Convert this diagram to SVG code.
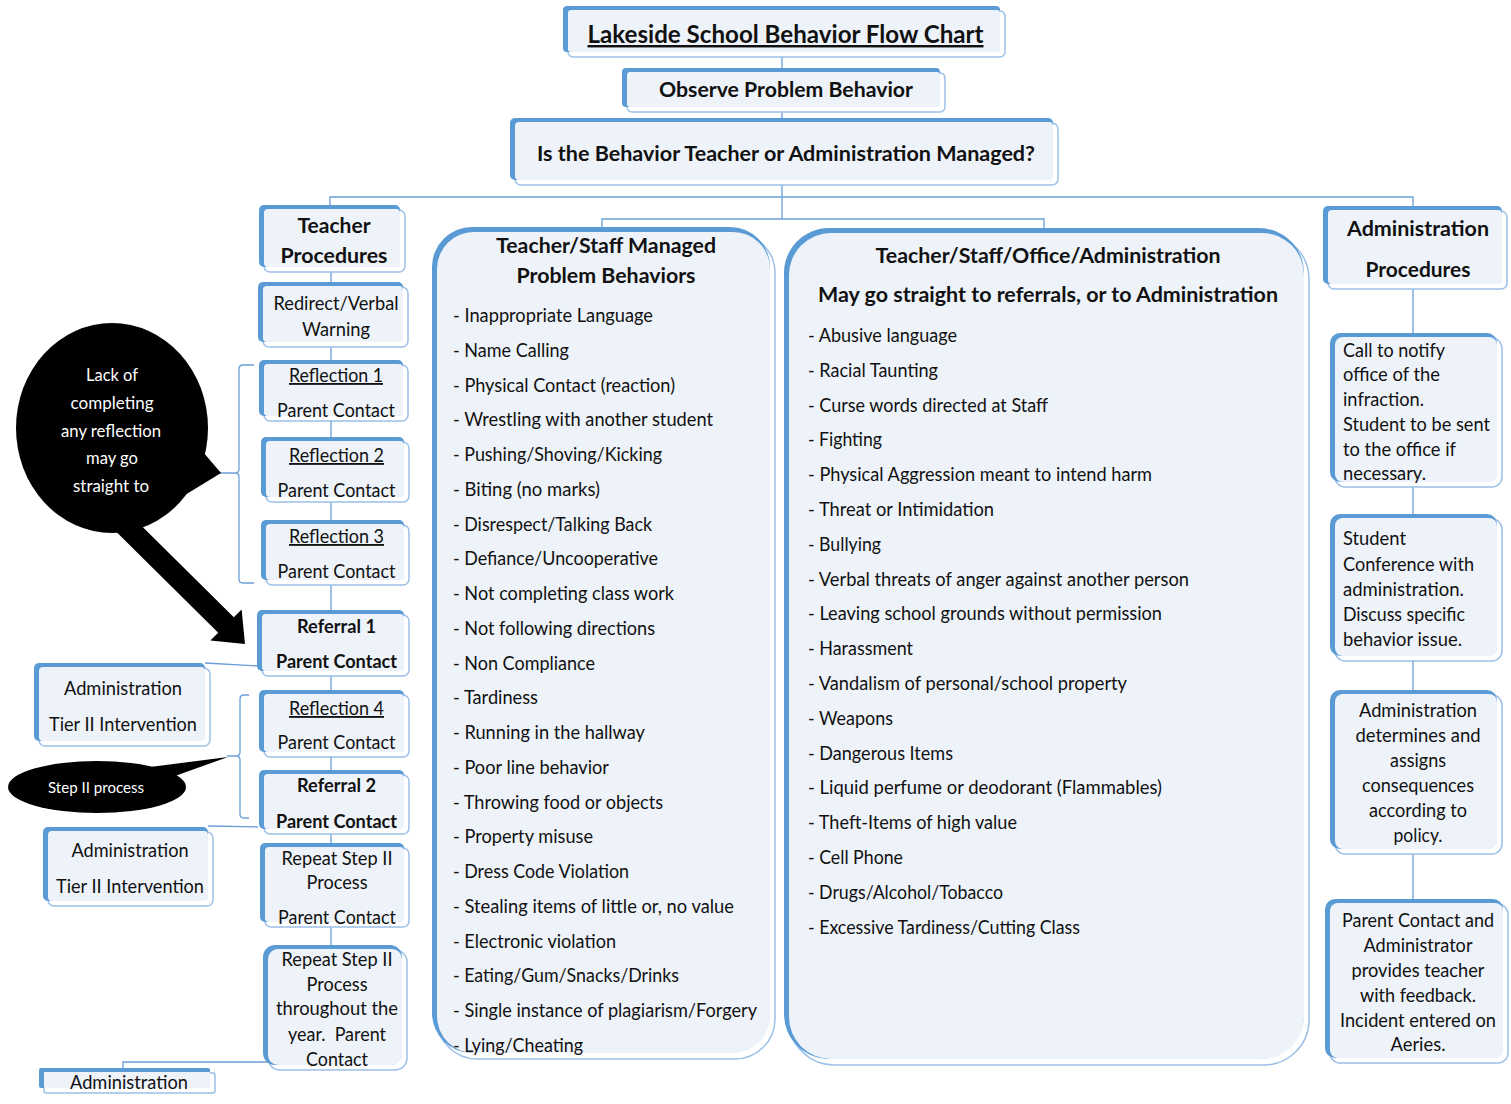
<svg xmlns="http://www.w3.org/2000/svg" width="1511" height="1104" viewBox="0 0 1511 1104">
<style>
.bl{fill:#5b9bd5}
.fr{fill:#ffffff;stroke:#9cc0e8;stroke-width:1.5}
.fi{fill:#eef3fa}
text{font-family:Lato,"Liberation Sans",sans-serif;fill:#111;}
.r{font-size:18.5px}
.bo{font-size:19px;font-weight:bold}
.h{font-size:21px;font-weight:bold}
.c{text-anchor:middle}
.u{text-decoration:underline}
.w{fill:#fff}
.conn path{stroke:#6a9fd6;stroke-width:1.3;fill:none}
.blk{fill:#000}
</style>
<rect width="1511" height="1104" fill="#fff"/>

<g class="conn" id="connectors">
<path d="M782,57 V68"/>
<path d="M782,112 V118"/>
<path d="M782,185 V219"/>
<path d="M330,206 V197 H1413 V206"/>
<path d="M602,228 V219 H1044 V228"/>
<path d="M331,272 V282 M331,347 V360 M331,421 V437 M331,502 V520 M331,585 V610 M331,676 V690 M331,757 V770 M331,834 V843 M331,927 V945"/>
<path d="M1413,289 V333 M1413,487 V514 M1413,661 V690 M1413,854 V899"/>
<path d="M254,365 H243 Q239,365 239,369 V469 Q239,473 235,473 Q239,473 239,477 V579 Q239,583 243,583 H254 M235,473 H220"/>
<path d="M249,695 H244 Q240,695 240,699 V752 Q240,756 236,756 Q240,756 240,760 V814 Q240,818 244,818 H249 M236,756 H227"/>
<path d="M258,666 L205,663"/>
<path d="M258,827 L208,826"/>
<path d="M268,1062 H123 V1068"/>
</g>

<g id="n-title">
<rect class="fr" x="568" y="11" width="437" height="46" rx="5"/>
<rect class="bl" x="563" y="6" width="437" height="46" rx="4"/>
<rect class="fi" x="568" y="10" width="432" height="42" rx="3"/>
<text class="c u" x="785.5" y="43" font-size="24.5" font-weight="bold" textLength="396" lengthAdjust="spacingAndGlyphs">Lakeside School Behavior Flow Chart</text>
</g>

<g id="n-observe">
<rect class="fr" x="627" y="73" width="318" height="39" rx="5"/>
<rect class="bl" x="622" y="68" width="318" height="39" rx="4"/>
<rect class="fi" x="627" y="72" width="313" height="35" rx="3"/>
<text class="h c" x="786" y="97" textLength="254" lengthAdjust="spacingAndGlyphs">Observe Problem Behavior</text>
</g>

<g id="n-question">
<rect class="fr" x="515" y="123" width="543" height="62" rx="6"/>
<rect class="bl" x="510" y="118" width="543" height="62" rx="5"/>
<rect class="fi" x="515" y="122" width="538" height="58" rx="4"/>
<text class="h c" x="786" y="161" textLength="498" lengthAdjust="spacingAndGlyphs">Is the Behavior Teacher or Administration Managed?</text>
</g>

<g id="n-teacher">
<rect class="fr" x="264" y="210" width="141" height="62" rx="6"/>
<rect class="bl" x="259" y="205" width="141" height="62" rx="5"/>
<rect class="fi" x="264" y="209" width="136" height="58" rx="4"/>
<text class="h c" x="334" y="233" textLength="73" lengthAdjust="spacingAndGlyphs">Teacher</text>
<text class="h c" x="334" y="263" textLength="107" lengthAdjust="spacingAndGlyphs">Procedures</text>
</g>

<g id="n-redirect">
<rect class="fr" x="263" y="287" width="145" height="60" rx="6"/>
<rect class="bl" x="258" y="282" width="145" height="60" rx="5"/>
<rect class="fi" x="263" y="286" width="140" height="56" rx="4"/>
<text class="r c" x="336" y="310" textLength="125" lengthAdjust="spacingAndGlyphs">Redirect/Verbal</text>
<text class="r c" x="336" y="336" textLength="68" lengthAdjust="spacingAndGlyphs">Warning</text>
</g>

<g id="n-refl1">
<rect class="fr" x="264" y="365" width="144" height="56" rx="6"/>
<rect class="bl" x="259" y="360" width="144" height="56" rx="5"/>
<rect class="fi" x="264" y="364" width="139" height="52" rx="4"/>
<text class="r c u" x="336" y="382" textLength="94" lengthAdjust="spacingAndGlyphs">Reflection 1</text>
<text class="r c" x="336" y="417" textLength="118" lengthAdjust="spacingAndGlyphs">Parent Contact</text>
</g>

<g id="n-refl2">
<rect class="fr" x="266" y="442" width="143" height="60" rx="6"/>
<rect class="bl" x="261" y="437" width="143" height="60" rx="5"/>
<rect class="fi" x="266" y="441" width="138" height="56" rx="4"/>
<text class="r c u" x="336.5" y="462" textLength="95" lengthAdjust="spacingAndGlyphs">Reflection 2</text>
<text class="r c" x="336.5" y="497" textLength="118" lengthAdjust="spacingAndGlyphs">Parent Contact</text>
</g>

<g id="n-refl3">
<rect class="fr" x="266" y="525" width="143" height="60" rx="6"/>
<rect class="bl" x="261" y="520" width="143" height="60" rx="5"/>
<rect class="fi" x="266" y="524" width="138" height="56" rx="4"/>
<text class="r c u" x="336.5" y="543" textLength="95" lengthAdjust="spacingAndGlyphs">Reflection 3</text>
<text class="r c" x="336.5" y="578" textLength="118" lengthAdjust="spacingAndGlyphs">Parent Contact</text>
</g>

<g id="n-ref1">
<rect class="fr" x="262" y="615" width="147" height="61" rx="6"/>
<rect class="bl" x="257" y="610" width="147" height="61" rx="5"/>
<rect class="fi" x="262" y="614" width="142" height="57" rx="4"/>
<text class="bo c" x="336.5" y="633" textLength="79" lengthAdjust="spacingAndGlyphs">Referral 1</text>
<text class="bo c" x="336.5" y="668" textLength="121" lengthAdjust="spacingAndGlyphs">Parent Contact</text>
</g>

<g id="n-refl4">
<rect class="fr" x="264" y="695" width="145" height="62" rx="6"/>
<rect class="bl" x="259" y="690" width="145" height="62" rx="5"/>
<rect class="fi" x="264" y="694" width="140" height="58" rx="4"/>
<text class="r c u" x="336.5" y="715" textLength="95" lengthAdjust="spacingAndGlyphs">Reflection 4</text>
<text class="r c" x="336.5" y="749" textLength="118" lengthAdjust="spacingAndGlyphs">Parent Contact</text>
</g>

<g id="n-ref2">
<rect class="fr" x="264" y="775" width="145" height="59" rx="6"/>
<rect class="bl" x="259" y="770" width="145" height="59" rx="5"/>
<rect class="fi" x="264" y="774" width="140" height="55" rx="4"/>
<text class="bo c" x="336.5" y="792" textLength="79" lengthAdjust="spacingAndGlyphs">Referral 2</text>
<text class="bo c" x="336.5" y="828" textLength="121" lengthAdjust="spacingAndGlyphs">Parent Contact</text>
</g>

<g id="n-repeat1">
<rect class="fr" x="265" y="848" width="144" height="79" rx="6"/>
<rect class="bl" x="260" y="843" width="144" height="79" rx="5"/>
<rect class="fi" x="265" y="847" width="139" height="75" rx="4"/>
<text class="r c" x="337" y="865" textLength="111" lengthAdjust="spacingAndGlyphs">Repeat Step II</text>
<text class="r c" x="337" y="889" textLength="61" lengthAdjust="spacingAndGlyphs">Process</text>
<text class="r c" x="337" y="924" textLength="118" lengthAdjust="spacingAndGlyphs">Parent Contact</text>
</g>

<g id="n-repeat2">
<rect class="fr" x="268" y="950" width="139" height="120" rx="12"/>
<rect class="bl" x="263" y="945" width="139" height="120" rx="12"/>
<rect class="fi" x="268" y="949" width="134" height="116" rx="10"/>
<text class="r c" x="337" y="966" textLength="111" lengthAdjust="spacingAndGlyphs">Repeat Step II</text>
<text class="r c" x="337" y="991" textLength="61" lengthAdjust="spacingAndGlyphs">Process</text>
<text class="r c" x="337" y="1015" textLength="122" lengthAdjust="spacingAndGlyphs">throughout the</text>
<text class="r c" x="337" y="1041" textLength="98" lengthAdjust="spacingAndGlyphs">year.&#160; Parent</text>
<text class="r c" x="337" y="1066" textLength="62" lengthAdjust="spacingAndGlyphs">Contact</text>
</g>

<g id="n-admintier1">
<rect class="fr" x="39" y="668" width="171" height="78" rx="6"/>
<rect class="bl" x="34" y="663" width="171" height="78" rx="5"/>
<rect class="fi" x="39" y="667" width="166" height="74" rx="4"/>
<text class="r c" x="123" y="695" textLength="118" lengthAdjust="spacingAndGlyphs">Administration</text>
<text class="r c" x="123" y="731" textLength="148" lengthAdjust="spacingAndGlyphs">Tier II Intervention</text>
</g>

<g id="n-admintier2">
<rect class="fr" x="48" y="832" width="165" height="74" rx="6"/>
<rect class="bl" x="43" y="827" width="165" height="74" rx="5"/>
<rect class="fi" x="48" y="831" width="160" height="70" rx="4"/>
<text class="r c" x="130" y="857" textLength="117" lengthAdjust="spacingAndGlyphs">Administration</text>
<text class="r c" x="130" y="893" textLength="148" lengthAdjust="spacingAndGlyphs">Tier II Intervention</text>
</g>

<g id="n-adminbottom">
<rect class="fr" x="44" y="1073" width="171" height="20" rx="2"/>
<rect class="bl" x="39" y="1068" width="171" height="20" rx="2"/>
<rect class="fi" x="44" y="1072" width="166" height="16" rx="1"/>
<text class="r c" x="129" y="1089" textLength="118" lengthAdjust="spacingAndGlyphs">Administration</text>
</g>

<g id="n-adminproc">
<rect class="fr" x="1328" y="211" width="179" height="78" rx="6"/>
<rect class="bl" x="1323" y="206" width="179" height="78" rx="5"/>
<rect class="fi" x="1328" y="210" width="174" height="74" rx="4"/>
<text class="h c" x="1418" y="236" textLength="142" lengthAdjust="spacingAndGlyphs">Administration</text>
<text class="h c" x="1418" y="277" textLength="105" lengthAdjust="spacingAndGlyphs">Procedures</text>
</g>

<g id="n-call">
<rect class="fr" x="1335" y="338" width="167" height="149" rx="10"/>
<rect class="bl" x="1330" y="333" width="167" height="149" rx="10"/>
<rect class="fi" x="1335" y="337" width="162" height="145" rx="8"/>
<text class="r" x="1343" y="357" textLength="102" lengthAdjust="spacingAndGlyphs">Call to notify</text>
<text class="r" x="1343" y="381" textLength="97" lengthAdjust="spacingAndGlyphs">office of the</text>
<text class="r" x="1343" y="406" textLength="81" lengthAdjust="spacingAndGlyphs">infraction.</text>
<text class="r" x="1343" y="431" textLength="147" lengthAdjust="spacingAndGlyphs">Student to be sent</text>
<text class="r" x="1343" y="456" textLength="113" lengthAdjust="spacingAndGlyphs">to the office if</text>
<text class="r" x="1343" y="480" textLength="83" lengthAdjust="spacingAndGlyphs">necessary.</text>
</g>

<g id="n-conference">
<rect class="fr" x="1335" y="519" width="167" height="142" rx="10"/>
<rect class="bl" x="1330" y="514" width="167" height="142" rx="10"/>
<rect class="fi" x="1335" y="518" width="162" height="138" rx="8"/>
<text class="r" x="1343" y="545" textLength="63" lengthAdjust="spacingAndGlyphs">Student</text>
<text class="r" x="1343" y="571" textLength="131" lengthAdjust="spacingAndGlyphs">Conference with</text>
<text class="r" x="1343" y="596" textLength="121" lengthAdjust="spacingAndGlyphs">administration.</text>
<text class="r" x="1343" y="621" textLength="122" lengthAdjust="spacingAndGlyphs">Discuss specific</text>
<text class="r" x="1343" y="646" textLength="119" lengthAdjust="spacingAndGlyphs">behavior issue.</text>
</g>

<g id="n-determines">
<rect class="fr" x="1335" y="695" width="167" height="159" rx="10"/>
<rect class="bl" x="1330" y="690" width="167" height="159" rx="10"/>
<rect class="fi" x="1335" y="694" width="162" height="155" rx="8"/>
<text class="r c" x="1418" y="717" textLength="118" lengthAdjust="spacingAndGlyphs">Administration</text>
<text class="r c" x="1418" y="742" textLength="125" lengthAdjust="spacingAndGlyphs">determines and</text>
<text class="r c" x="1418" y="767" textLength="56" lengthAdjust="spacingAndGlyphs">assigns</text>
<text class="r c" x="1418" y="792" textLength="112" lengthAdjust="spacingAndGlyphs">consequences</text>
<text class="r c" x="1418" y="817" textLength="98" lengthAdjust="spacingAndGlyphs">according to</text>
<text class="r c" x="1418" y="842" textLength="49" lengthAdjust="spacingAndGlyphs">policy.</text>
</g>

<g id="n-parent">
<rect class="fr" x="1330" y="904" width="178" height="159" rx="10"/>
<rect class="bl" x="1325" y="899" width="178" height="159" rx="10"/>
<rect class="fi" x="1330" y="903" width="173" height="155" rx="8"/>
<text class="r c" x="1418" y="927" textLength="152" lengthAdjust="spacingAndGlyphs">Parent Contact and</text>
<text class="r c" x="1418" y="952" textLength="109" lengthAdjust="spacingAndGlyphs">Administrator</text>
<text class="r c" x="1418" y="977" textLength="133" lengthAdjust="spacingAndGlyphs">provides teacher</text>
<text class="r c" x="1418" y="1002" textLength="116" lengthAdjust="spacingAndGlyphs">with feedback.</text>
<text class="r c" x="1418" y="1027" textLength="156" lengthAdjust="spacingAndGlyphs">Incident entered on</text>
<text class="r c" x="1418" y="1051" textLength="55" lengthAdjust="spacingAndGlyphs">Aeries.</text>
</g>

<g id="n-panel-teacher">
<rect class="fr" x="437" y="233" width="338" height="826" rx="40"/>
<rect class="bl" x="432" y="227" width="338" height="826" rx="40"/>
<rect class="fi" x="437" y="232" width="333" height="821" rx="37"/>
<text class="h c" x="606" y="253" textLength="220" lengthAdjust="spacingAndGlyphs">Teacher/Staff Managed</text>
<text class="h c" x="606" y="283" textLength="179" lengthAdjust="spacingAndGlyphs">Problem Behaviors</text>
<text class="r" x="453" y="322" textLength="200" lengthAdjust="spacingAndGlyphs">- Inappropriate Language</text>
<text class="r" x="453" y="356.8" textLength="116" lengthAdjust="spacingAndGlyphs">- Name Calling</text>
<text class="r" x="453" y="391.5" textLength="222" lengthAdjust="spacingAndGlyphs">- Physical Contact (reaction)</text>
<text class="r" x="453" y="426.3" textLength="260" lengthAdjust="spacingAndGlyphs">- Wrestling with another student</text>
<text class="r" x="453" y="461" textLength="209" lengthAdjust="spacingAndGlyphs">- Pushing/Shoving/Kicking</text>
<text class="r" x="453" y="495.8" textLength="147" lengthAdjust="spacingAndGlyphs">- Biting (no marks)</text>
<text class="r" x="453" y="530.6" textLength="199" lengthAdjust="spacingAndGlyphs">- Disrespect/Talking Back</text>
<text class="r" x="453" y="565.3" textLength="205" lengthAdjust="spacingAndGlyphs">- Defiance/Uncooperative</text>
<text class="r" x="453" y="600.1" textLength="221" lengthAdjust="spacingAndGlyphs">- Not completing class work</text>
<text class="r" x="453" y="634.8" textLength="202" lengthAdjust="spacingAndGlyphs">- Not following directions</text>
<text class="r" x="453" y="669.6" textLength="142" lengthAdjust="spacingAndGlyphs">- Non Compliance</text>
<text class="r" x="453" y="704.4" textLength="85" lengthAdjust="spacingAndGlyphs">- Tardiness</text>
<text class="r" x="453" y="739.1" textLength="192" lengthAdjust="spacingAndGlyphs">- Running in the hallway</text>
<text class="r" x="453" y="773.9" textLength="156" lengthAdjust="spacingAndGlyphs">- Poor line behavior</text>
<text class="r" x="453" y="808.6" textLength="210" lengthAdjust="spacingAndGlyphs">- Throwing food or objects</text>
<text class="r" x="453" y="843.4" textLength="140" lengthAdjust="spacingAndGlyphs">- Property misuse</text>
<text class="r" x="453" y="878.2" textLength="176" lengthAdjust="spacingAndGlyphs">- Dress Code Violation</text>
<text class="r" x="453" y="912.9" textLength="281" lengthAdjust="spacingAndGlyphs">- Stealing items of little or, no value</text>
<text class="r" x="453" y="947.7" textLength="163" lengthAdjust="spacingAndGlyphs">- Electronic violation</text>
<text class="r" x="453" y="982.4" textLength="226" lengthAdjust="spacingAndGlyphs">- Eating/Gum/Snacks/Drinks</text>
<text class="r" x="453" y="1017.2" textLength="304" lengthAdjust="spacingAndGlyphs">- Single instance of plagiarism/Forgery</text>
<text class="r" x="453" y="1052" textLength="130" lengthAdjust="spacingAndGlyphs">- Lying/Cheating</text>
</g>

<g id="n-panel-admin">
<rect class="fr" x="789" y="234" width="520" height="831" rx="45"/>
<rect class="bl" x="784" y="228" width="520" height="831" rx="45"/>
<rect class="fi" x="789" y="233" width="515" height="826" rx="42"/>
<text class="h c" x="1048" y="263" textLength="345" lengthAdjust="spacingAndGlyphs">Teacher/Staff/Office/Administration</text>
<text class="h c" x="1048" y="302" textLength="460" lengthAdjust="spacingAndGlyphs">May go straight to referrals, or to Administration</text>
<text class="r" x="808" y="342" textLength="149" lengthAdjust="spacingAndGlyphs">- Abusive language</text>
<text class="r" x="808" y="376.8" textLength="130" lengthAdjust="spacingAndGlyphs">- Racial Taunting</text>
<text class="r" x="808" y="411.6" textLength="240" lengthAdjust="spacingAndGlyphs">- Curse words directed at Staff</text>
<text class="r" x="808" y="446.4" textLength="74" lengthAdjust="spacingAndGlyphs">- Fighting</text>
<text class="r" x="808" y="481.2" textLength="344" lengthAdjust="spacingAndGlyphs">- Physical Aggression meant to intend harm</text>
<text class="r" x="808" y="516" textLength="186" lengthAdjust="spacingAndGlyphs">- Threat or Intimidation</text>
<text class="r" x="808" y="550.8" textLength="73" lengthAdjust="spacingAndGlyphs">- Bullying</text>
<text class="r" x="808" y="585.6" textLength="381" lengthAdjust="spacingAndGlyphs">- Verbal threats of anger against another person</text>
<text class="r" x="808" y="620.4" textLength="354" lengthAdjust="spacingAndGlyphs">- Leaving school grounds without permission</text>
<text class="r" x="808" y="655.2" textLength="105" lengthAdjust="spacingAndGlyphs">- Harassment</text>
<text class="r" x="808" y="690" textLength="319" lengthAdjust="spacingAndGlyphs">- Vandalism of personal/school property</text>
<text class="r" x="808" y="724.8" textLength="85" lengthAdjust="spacingAndGlyphs">- Weapons</text>
<text class="r" x="808" y="759.6" textLength="145" lengthAdjust="spacingAndGlyphs">- Dangerous Items</text>
<text class="r" x="808" y="794.4" textLength="354" lengthAdjust="spacingAndGlyphs">- Liquid perfume or deodorant (Flammables)</text>
<text class="r" x="808" y="829.2" textLength="209" lengthAdjust="spacingAndGlyphs">- Theft-Items of high value</text>
<text class="r" x="808" y="864" textLength="95" lengthAdjust="spacingAndGlyphs">- Cell Phone</text>
<text class="r" x="808" y="898.8" textLength="195" lengthAdjust="spacingAndGlyphs">- Drugs/Alcohol/Tobacco</text>
<text class="r" x="808" y="933.6" textLength="272" lengthAdjust="spacingAndGlyphs">- Excessive Tardiness/Cutting Class</text>
</g>

<g id="callout-reflection">
<ellipse class="blk" cx="112" cy="428" rx="96" ry="105"/>
<polygon class="blk" points="203,452 221,473 185,495"/>
<polygon class="blk" points="127.8,512.2 233.8,617.2 241.6,609.4 245,644 210.4,640.6 218.2,632.8 112.2,527.8"/>
<text class="c w" x="112" y="381" font-size="17" textLength="52" lengthAdjust="spacingAndGlyphs">Lack of</text>
<text class="c w" x="112" y="409" font-size="17" textLength="83" lengthAdjust="spacingAndGlyphs">completing</text>
<text class="c w" x="111" y="437" font-size="17" textLength="100" lengthAdjust="spacingAndGlyphs">any reflection</text>
<text class="c w" x="112" y="464" font-size="17" textLength="52" lengthAdjust="spacingAndGlyphs">may go</text>
<text class="c w" x="111" y="492" font-size="17" textLength="76" lengthAdjust="spacingAndGlyphs">straight to</text>
</g>

<g id="callout-step2">
<ellipse class="blk" cx="97" cy="787" rx="89" ry="26"/>
<polygon class="blk" points="150,767 228,757 175,776"/>
<text class="c w" x="96" y="793" font-size="15" textLength="96" lengthAdjust="spacingAndGlyphs">Step II process</text>
</g>
</svg>
